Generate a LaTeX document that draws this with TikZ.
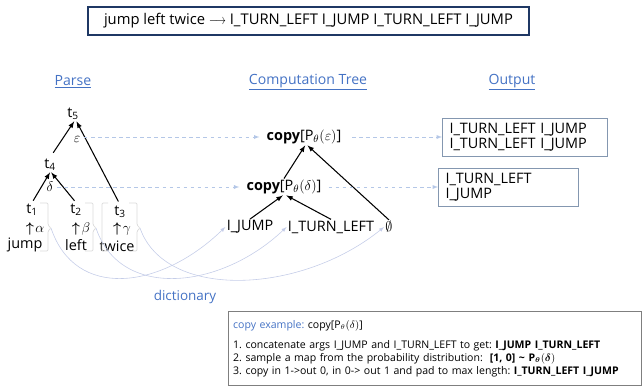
\documentclass[tikz,border=0pt]{standalone}
\usepackage{fontspec}
\usepackage{bm}
\usepackage{graphicx}
\setmainfont{Open Sans}
\frenchspacing
\usetikzlibrary{arrows,
                positioning}
\definecolor{headblue}{HTML}{4472C4}
\definecolor{dashblue}{HTML}{B4C7E7}
\definecolor{curveblue}{HTML}{C5CDE8}
\definecolor{navy}{HTML}{1F3864}
\definecolor{boxgray}{HTML}{8497B0}
\definecolor{notegray}{HTML}{7F7F7F}
\definecolor{bracketgray}{HTML}{D9D9D9}
\tikzset{header/.style =
   {text=headblue,
    font=\fontsize{12}{14}\selectfont}}
\tikzset{pairbox/.style =
   {draw=navy,
    line width=1.2pt,
    minimum width=13.23cm,
    minimum height=0.84cm,
    inner sep=0pt,
    font=\fontsize{12.6}{14}\selectfont}}
\tikzset{outbox/.style =
   {draw=boxgray,
    line width=0.8pt,
    align=left,
    inner xsep=6pt,
    minimum height=1.14cm,
    anchor=west}}
\tikzset{notebox/.style =
   {draw=notegray,
    line width=0.8pt,
    align=left,
    inner xsep=4pt,
    text width=12.11cm,
    minimum height=2.22cm,
    anchor=north west,
    font=\fontsize{9}{11.1}\selectfont}}
\tikzset{treearrow/.style = {draw, -latex, line width=0.9pt}}
\tikzset{linkarrow/.style = {draw, dashblue, dashed, -latex, line width=0.6pt}}
\tikzset{dictcurve/.style = {draw, curveblue, -latex, line width=0.5pt}}
\tikzset{bracket/.style = {draw, bracketgray, line width=0.6pt, rounded corners=1pt}}

\begin{document}
\begin{tikzpicture}[x=0.03cm, y=-0.03cm,
                    font=\fontsize{12.3}{12.8}\selectfont,
                    inner sep=1pt]

    \useasboundingbox (0,0) rectangle (644,388);

    % command and its meaning
    \node [pairbox] (pair) at (308.5,21)
        {jump left twice \scalebox{0.75}[1]{$\longrightarrow$} I\_TURN\_LEFT I\_JUMP I\_TURN\_LEFT I\_JUMP};

    % column titles
    \node [header] (parse) at (73,82) {\underline{Parse}};
    \node [header] (comptree) at (308,82) {\underline{Computation Tree}};
    \node [header] (output) at (512,82) {\underline{Output}};

    % parse tree
    \node (t5) at (73,114) {t\textsubscript{5}};
    \node (t4) at (50,165) {t\textsubscript{4}};
    \node (t1) at (32,210) {t\textsubscript{1}};
    \node (t2) at (76,210) {t\textsubscript{2}};
    \node (t3) at (120,212) {t\textsubscript{3}};

    \node (eps) at (77,139) {$\varepsilon$};
    \node (dlt) at (50,187) {$\delta$};

    \node (ua) at (35,229) {$\bm{\uparrow}\!\alpha$};
    \node (ub) at (81,229) {$\bm{\uparrow}\!\beta$};
    \node (ug) at (122,229) {$\bm{\uparrow}\!\gamma$};

    \node (jump) at (25,245) {jump};
    \node (left) at (76,245) {left};
    \node (twice) at (117,246) {twice};

    \draw [treearrow, shorten <=5pt] (t4.north) -- ([xshift=1pt]t5.south);
    \draw [treearrow, shorten <=3pt] (t3.north) -- ([xshift=3pt]t5.south);
    \draw [treearrow, shorten <=2pt] (t1.north) -- (t4.south);
    \draw [treearrow, shorten <=2pt] (t2.north) -- ([xshift=1pt]t4.south);

    % dictionary brackets
    \foreach \bx/\bn in {48/b1, 93/b2, 137/b3} {
        \draw [bracket] (\bx-8,203) -- (\bx,203) -- (\bx,225)
            -- (\bx+3,228) coordinate (\bn) -- (\bx,231) -- (\bx,251) -- (\bx-8,251);
    }
    \draw [bracket] (108,203) -- (102,203) -- (102,251) -- (108,251);

    % computation tree
    \node (copye) at (304,137) {\textbf{copy}[P$_\theta(\varepsilon)$]};
    \node (copyd) at (284,187) {\textbf{copy}[P$_\theta(\delta)$]};
    \node (ijump) at (250,227) {I\_JUMP};
    \node (ileft) at (331,227) {I\_TURN\_LEFT};
    \node (empty) at (389,227) {$\emptyset$};

    \draw [treearrow] (ijump.north) -- ([xshift=-1pt]copyd.south);
    \draw [treearrow] (ileft.north) -- ([xshift=2pt]copyd.south);
    \draw [treearrow] (copyd.north) -- ([xshift=1pt]copye.south);
    \draw [treearrow] (empty.north) -- ([xshift=3pt]copye.south);

    % outputs
    \node [outbox, text width=4.527cm] (out1) at (442,137)
        {I\_TURN\_LEFT I\_JUMP\\I\_TURN\_LEFT I\_JUMP};
    \node [outbox, text width=3.777cm] (out2) at (438,187)
        {I\_TURN\_LEFT\\I\_JUMP};

    % links between columns
    \draw [linkarrow, shorten <=2pt, shorten >=5pt] (eps.east |- copye.west) -- (copye.west);
    \draw [linkarrow, shorten <=8pt] (copye.east) -- (out1.west);
    \draw [linkarrow, shorten <=2pt, shorten >=5pt] (dlt.east |- copyd.west) -- (copyd.west);
    \draw [linkarrow, shorten <=5pt] (copyd.east) -- (out2.west);

    % dictionary lookups
    \draw [dictcurve] (b1) .. controls (75,300) and (160,290) .. (ijump.west);
    \draw [dictcurve] (b2) .. controls (120,300) and (220,290) .. (ileft.west);
    \draw [dictcurve] (b3) .. controls (165,300) and (300,295) .. (empty.west);

    \node [text=headblue, font=\fontsize{11.5}{13}\selectfont] (dict) at (185,297) {dictionary};

    % worked example
    \node [notebox] (note) at (228,311)
        {{\color{headblue}copy example:} copy[P$_\theta(\delta)$]\\[6pt]
         1. concatenate args I\_JUMP and I\_TURN\_LEFT to get: \textbf{I\_JUMP I\_TURN\_LEFT}\\
         2. sample a map from the probability distribution:\ \ \textbf{[1, 0] \textasciitilde{} P$_{\bm{\theta}}(\bm{\delta})$}\\
         3. copy in 1->out 0, in 0-> out 1 and pad to max length: \textbf{I\_TURN\_LEFT I\_JUMP}};

\end{tikzpicture}
\end{document}
